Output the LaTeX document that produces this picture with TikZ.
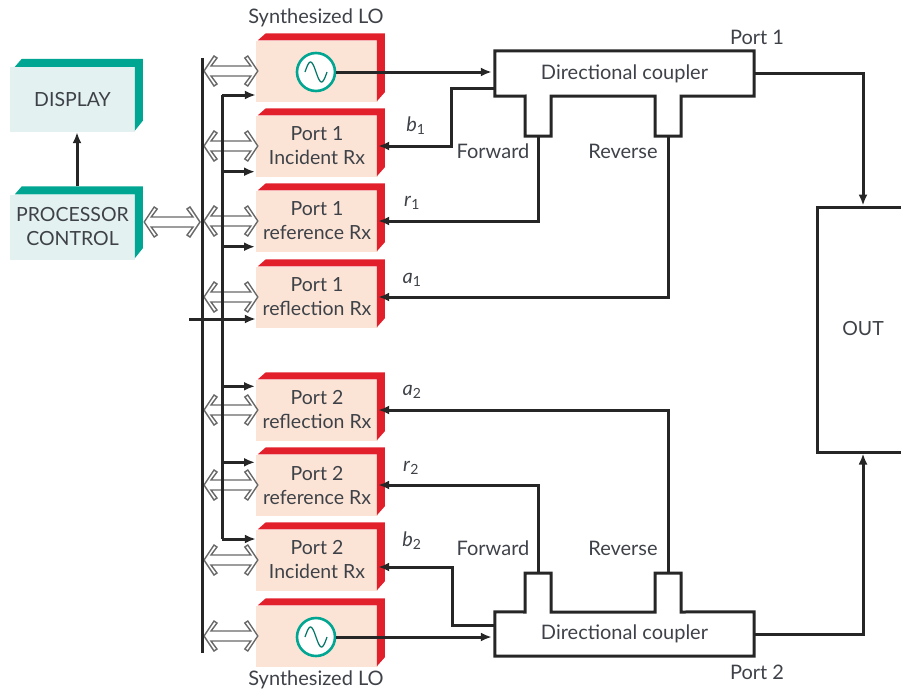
\documentclass[tikz,border=0pt]{standalone}
\usepackage{fontspec}
\setmainfont{Lato}
\usetikzlibrary{calc,positioning,arrows.meta}
\definecolor{myred}{RGB}{226,32,44}
\definecolor{myteal}{RGB}{0,166,145}
\definecolor{mypeach}{RGB}{251,228,214}
\definecolor{myblue}{RGB}{227,241,241}
\definecolor{mytext}{RGB}{62,66,72}
\definecolor{myrail}{RGB}{105,105,105}
\tikzset{
  rxbox/.style={fill=mypeach, minimum width=122pt, minimum height=61pt, inner sep=0pt, align=center, text=mytext, font=\fontsize{19.5}{24}\selectfont},
  ctlbox/.style={fill=myblue, minimum width=125pt, minimum height=65pt, inner sep=0pt, align=center, text=mytext, font=\fontsize{19.5}{24}\selectfont},
  lbl/.style={text=mytext, inner sep=0pt, font=\fontsize{20}{22}\selectfont},
  osc/.style={circle, draw=myteal, line width=2.6pt, fill=white, minimum size=38pt, inner sep=0pt},
  wire/.style={line width=3pt, black!85},
  sig/.style={wire, -{Latex[length=11pt,width=9pt]}},
  dbus/.style={draw=myrail, fill=white, line width=1.4pt, to path={
    (\tikztostart) -- ($(\tikztostart)+(10,-15)$) -- ($(\tikztostart)+(13,-13)$) -- ($(\tikztostart)+(7,-5)$)
    -- ($(\tikztotarget)+(-7,-5)$) -- ($(\tikztotarget)+(-13,-13)$) -- ($(\tikztotarget)+(-10,-15)$) -- (\tikztotarget)
    -- ($(\tikztotarget)+(-10,15)$) -- ($(\tikztotarget)+(-13,13)$) -- ($(\tikztotarget)+(-7,5)$)
    -- ($(\tikztostart)+(7,5)$) -- ($(\tikztostart)+(13,13)$) -- ($(\tikztostart)+(10,15)$) -- cycle}},
}
\begin{document}
\begin{tikzpicture}[x=1pt,y=-1pt]
  \useasboundingbox (0,0) rectangle (901,691);

  % Control side
  \node[ctlbox] (display) at (72.5,99.5) {DISPLAY};
  \node[ctlbox] (proc) at (72.5,227) {PROCESSOR\\CONTROL};
  \foreach \n in {display,proc}
    \fill[myteal] ([xshift=5pt]\n.north west) -- ++(7,-8) -- ++(121,0) -- ++(0,62) -- ++(-8,10) -- ++(0,-64) -- cycle;

  % Receivers
  \node[rxbox] (lo1) at (317,71) {};
  \node[rxbox] (inc1) at (317,146) {Port 1\\Incident Rx};
  \node[rxbox] (ref1) at (317,221) {Port 1\\reference Rx};
  \node[rxbox] (rfl1) at (317,297) {Port 1\\reflection Rx};
  \node[rxbox] (rfl2) at (317,410) {Port 2\\reflection Rx};
  \node[rxbox] (ref2) at (317,485) {Port 2\\reference Rx};
  \node[rxbox] (inc2) at (317,560) {Port 2\\Incident Rx};
  \node[rxbox] (lo2) at (317,636) {};
  \foreach \n in {lo1,inc1,ref1,rfl1,rfl2,ref2,inc2,lo2}
    \fill[myred] ([xshift=2pt]\n.north west) -- ++(8,-7) -- ++(119,0) -- ++(0,59) -- ++(-8,9) -- ++(0,-61) -- cycle;

  \node[osc] (osc1) at (316,72) {};
  \node[osc] (osc2) at (316,637) {};
  \foreach \n in {osc1,osc2}
    \draw[myteal!70!black, line width=1.2pt, shift={(\n.center)}] plot[domain=-1:1, samples=30, smooth] ({\x*11},{10*sin(\x*180)});

  % Bus lines
  \coordinate (bus1a) at (202,58);
  \coordinate (bus1b) at (202,653);
  \coordinate (bus2a) at (222,95);
  \coordinate (bus2b) at (222,539);
  \coordinate (clk) at (189,319);

  \foreach \n in {lo1,inc1,ref1,rfl1,rfl2,ref2,inc2,lo2}
    \draw[dbus] ($(\n.west -| bus1a)+(2,0)$) to ($(\n.west)+(2,0)$);
  \draw[dbus] ($(proc.east)+(9,-5)$) to ($(bus1a |- proc.east)+(-2,-5)$);

  \draw[wire] (bus1a) -- (bus1b);
  \draw[wire] (bus2b) -- (bus2a);
  \draw[sig] (bus2a) -- (bus2a -| lo1.west);
  \draw[sig] (bus2a |- inc1.south) ++(0,-5) -- ++(33,0);
  \draw[sig] (bus2a |- ref1.south) ++(0,-5) -- ++(33,0);
  \draw[sig] (clk) -- (clk -| rfl1.west);
  \draw[sig] (bus2a |- rfl2.north) ++(0,7) -- ++(33,0);
  \draw[sig] (bus2a |- ref2.north) ++(0,8) -- ++(33,0);
  \draw[sig] (bus2b) -- (bus2b -| inc2.west);

  % Couplers
  \node[lbl, minimum width=259pt, minimum height=45pt] (cpl1) at (624.5,73.5) {Directional coupler};
  \node[lbl, minimum width=259pt, minimum height=44pt] (cpl2) at (624.5,634) {Directional coupler};
  \draw[wire] (cpl1.north west) -- (cpl1.north east) -- (cpl1.south east) -- (681,96) -- (681,136) -- (655,136) -- (655,96) -- (551,96) -- (551,136) -- (525,136) -- (525,96) -- (cpl1.south west) -- cycle;
  \draw[wire] (cpl2.south west) -- (cpl2.south east) -- (cpl2.north east) -- (681,612) -- (681,573) -- (655,573) -- (655,612) -- (551,612) -- (551,573) -- (525,573) -- (525,612) -- (cpl2.north west) -- cycle;

  % right side runs off the page
  \node[draw, line width=3pt, black!85, text=mytext, minimum width=92pt, minimum height=245pt, inner sep=0pt, font=\fontsize{19.5}{22}\selectfont] (out) at (863,329.5) {\raisebox{2pt}{OUT}};

  \coordinate (fwd1) at (538,136);
  \coordinate (rev1) at (668,136);
  \coordinate (fwd2) at (538,573);
  \coordinate (rev2) at (668,573);
  \coordinate (tap1) at (495,88);
  \coordinate (tap2) at (495,625);

  % Leads
  \draw[sig, shorten >=3pt] (osc1.east) -- (osc1.east -| cpl1.west);
  \draw[sig, shorten >=3pt] (osc2.east) -- (osc2.east -| cpl2.west);
  \draw[sig] (tap1) -- (451,88) |- (inc1.east);
  \draw[sig] (fwd1) |- (ref1.east);
  \draw[sig] (rev1) |- (rfl1.east);
  \draw[sig] (rev2) |- (rfl2.east);
  \draw[sig] (fwd2) |- (ref2.east);
  \draw[sig] (tap2) -- (452,625) |- ([yshift=-7pt]inc2.east);
  \draw[sig] (cpl1.east) -| (out.north);
  \draw[sig] (cpl2.east) -| (out.south);
  \draw[sig] ([xshift=4.5pt,yshift=8pt]proc.north) -- ([xshift=4.5pt]display.south);

  % Labels
  \node[lbl] (lolbla) at (316,18) {Synthesized LO};
  \node[lbl] (lolblb) at (316,680) {Synthesized LO};
  \node[lbl] (porta) at (757,37) {Port 1};
  \node[lbl] (portb) at (757,672) {Port 2};
  \node[lbl] (fwda) at (493,151) {Forward};
  \node[lbl] (reva) at (623,151) {Reverse};
  \node[lbl] (fwdb) at (493,548) {Forward};
  \node[lbl] (revb) at (623,548) {Reverse};
  \node[lbl] (b1) at (416,126) {\textit{b}\textsubscript{1}};
  \node[lbl] (r1) at (412,203) {\textit{r}\textsubscript{1}};
  \node[lbl] (a1) at (412,280) {\textit{a}\textsubscript{1}};
  \node[lbl] (a2) at (412,392) {\textit{a}\textsubscript{2}};
  \node[lbl] (r2) at (411,468) {\textit{r}\textsubscript{2}};
  \node[lbl] (b2) at (412,541) {\textit{b}\textsubscript{2}};
\end{tikzpicture}
\end{document}
